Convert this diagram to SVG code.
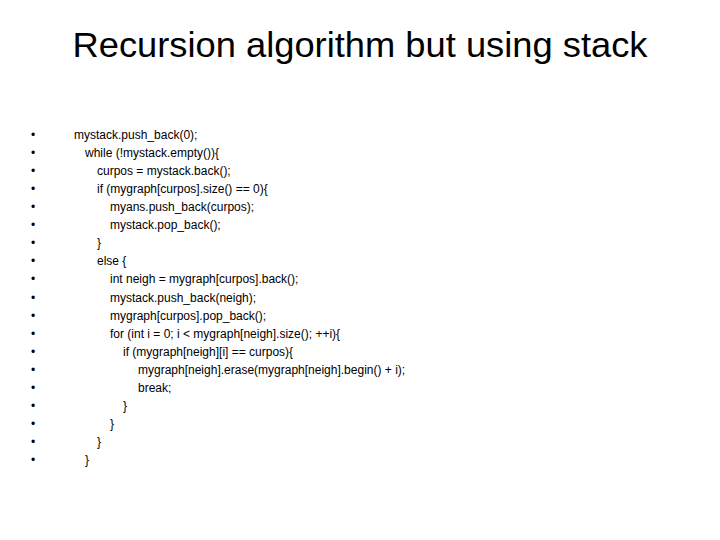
<svg xmlns="http://www.w3.org/2000/svg" width="720" height="540" viewBox="0 0 720 540">
<style>
.t{font-family:"Liberation Sans",Arial,sans-serif;font-size:35px;fill:#000}
.c{font-family:"Liberation Sans",Arial,sans-serif;font-size:12px;fill:#000}
.b{font-family:"Liberation Sans",Arial,sans-serif;font-size:12px;fill:#000}
</style>
<rect width="720" height="540" fill="#fff"/>
<text class="t" x="360" y="57" text-anchor="middle" textLength="575" lengthAdjust="spacingAndGlyphs">Recursion algorithm but using stack</text>
<g id="bullets">
<text class="b" x="31" y="139">•</text><text class="b" x="31" y="157">•</text><text class="b" x="31" y="175">•</text><text class="b" x="31" y="193">•</text><text class="b" x="31" y="211">•</text><text class="b" x="31" y="229">•</text><text class="b" x="31" y="247">•</text><text class="b" x="31" y="265">•</text><text class="b" x="31" y="283">•</text><text class="b" x="31" y="302">•</text><text class="b" x="31" y="320">•</text><text class="b" x="31" y="338">•</text><text class="b" x="31" y="356">•</text><text class="b" x="31" y="374">•</text><text class="b" x="31" y="392">•</text><text class="b" x="31" y="410">•</text><text class="b" x="31" y="428">•</text><text class="b" x="31" y="446">•</text><text class="b" x="31" y="464">•</text>
</g>
<g id="code">
<text class="c" x="74" y="139">mystack.push_back(0);</text>
<text class="c" x="85" y="157">while (!mystack.empty()){</text>
<text class="c" x="97" y="175">curpos = mystack.back();</text>
<text class="c" x="97" y="193">if (mygraph[curpos].size() == 0){</text>
<text class="c" x="110" y="211">myans.push_back(curpos);</text>
<text class="c" x="110" y="229">mystack.pop_back();</text>
<text class="c" x="97" y="247">}</text>
<text class="c" x="97" y="265">else {</text>
<text class="c" x="110" y="283">int neigh = mygraph[curpos].back();</text>
<text class="c" x="110" y="302">mystack.push_back(neigh);</text>
<text class="c" x="110" y="320">mygraph[curpos].pop_back();</text>
<text class="c" x="110" y="338">for (int i = 0; i &lt; mygraph[neigh].size(); ++i){</text>
<text class="c" x="123" y="356">if (mygraph[neigh][i] == curpos){</text>
<text class="c" x="138" y="374">mygraph[neigh].erase(mygraph[neigh].begin() + i);</text>
<text class="c" x="138" y="392">break;</text>
<text class="c" x="123" y="410">}</text>
<text class="c" x="110" y="428">}</text>
<text class="c" x="97" y="446">}</text>
<text class="c" x="85" y="464">}</text>
</g>
</svg>
